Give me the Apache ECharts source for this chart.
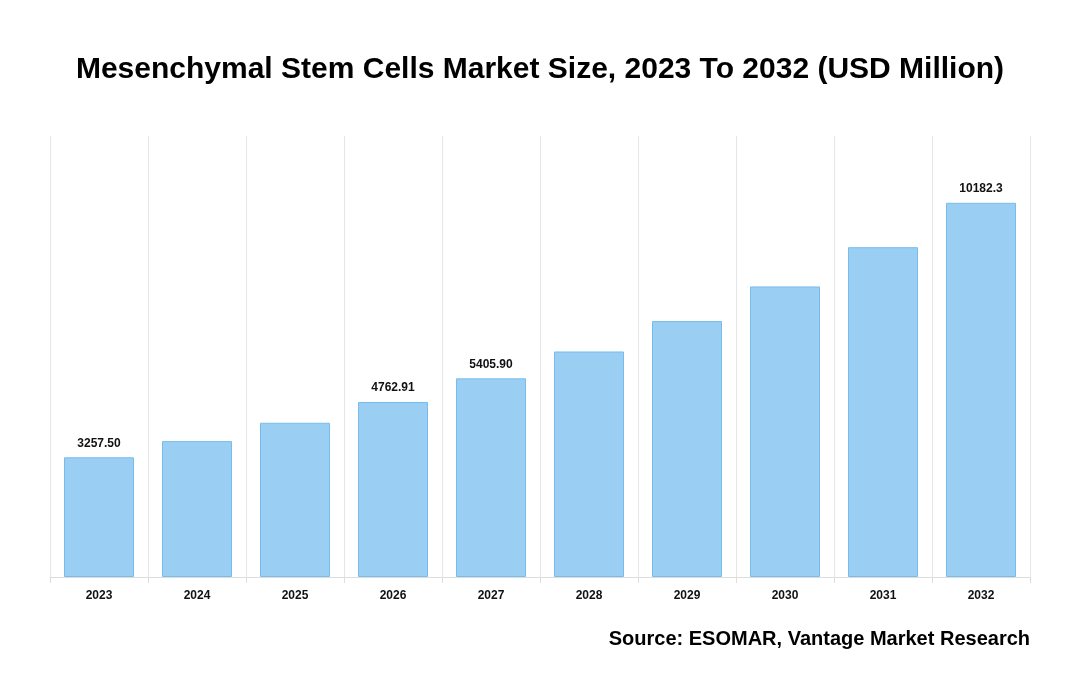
<!DOCTYPE html>
<html>
<head>
<meta charset="utf-8">
<script src="https://cdn.jsdelivr.net/npm/echarts@6/dist/echarts.min.js"></script>
<style>
html,body{margin:0;padding:0;background:#fff;}
#chart{width:1080px;height:700px;}
</style>
</head>
<body>
<div id="chart"></div>
<script>
var categories = ['2023','2024','2025','2026','2027','2028','2029','2030','2031','2032'];
var values = [3257.50, 3697.6, 4197.2, 4762.91, 5405.90, 6136.1, 6965.1, 7906.0, 8974.2, 10182.3];
var labelTexts = ['3257.50', '', '', '4762.91', '5405.90', '', '', '', '', '10182.3'];
var titleText = 'Mesenchymal Stem Cells Market Size, 2023 To 2032 (USD Million)';
var sourceText = 'Source: ESOMAR, Vantage Market Research';

var chart = echarts.init(document.getElementById('chart'), null, {renderer:'canvas'});
chart.setOption({
  animation: false,
  backgroundColor: '#ffffff',
  textStyle: {fontFamily: 'Liberation Sans, Arial, sans-serif'},
  title: [{
    text: titleText,
    left: 'center',
    top: 50,
    textStyle: {fontSize: 30, fontWeight: 'bold', color: '#000', fontFamily: 'Liberation Sans, Arial, sans-serif'}
  }, {
    text: sourceText,
    right: 45,
    top: 624,
    textStyle: {fontSize: 20, fontWeight: 'bold', color: '#000', fontFamily: 'Liberation Sans, Arial, sans-serif'}
  }],
  grid: {left: 50, right: 50, top: 136, bottom: 123, containLabel: false},
  xAxis: {
    type: 'category',
    data: categories,
    boundaryGap: true,
    axisLine: {show: true, lineStyle: {color: '#dddddd', width: 1}},
    axisTick: {show: true, length: 6, lineStyle: {color: '#dddddd'}},
    splitLine: {show: true, lineStyle: {color: '#e6e6e6', width: 1}},
    axisLabel: {fontSize: 12, fontWeight: 'bold', color: '#111', margin: 13, fontFamily: 'Liberation Sans, Arial, sans-serif'}
  },
  yAxis: {
    type: 'value',
    min: 0,
    max: 12000,
    show: false,
    splitLine: {show: false}
  },
  series: [{
    type: 'bar',
    data: values,
    barWidth: 70,
    itemStyle: {color: '#9acff3', borderColor: '#78bcec', borderWidth: 1},
    label: {
      show: true,
      position: 'top',
      distance: 8,
      fontSize: 12,
      fontWeight: 'bold',
      color: '#111',
      fontFamily: 'Liberation Sans, Arial, sans-serif',
      formatter: function (p) { return labelTexts[p.dataIndex]; }
    }
  }]
});
</script>
</body>
</html>
